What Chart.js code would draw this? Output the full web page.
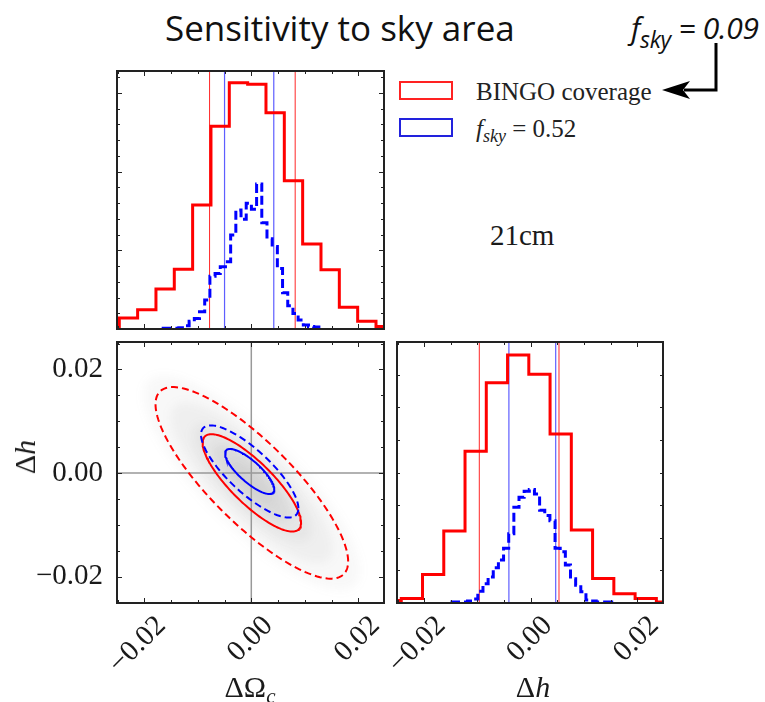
<!DOCTYPE html>
<html>
<head>
<meta charset="utf-8">
<title>Sensitivity to sky area</title>
<script src="https://cdn.jsdelivr.net/npm/chart.js@4.4.1/dist/chart.umd.min.js"></script>
<style>
  html, body { margin: 0; padding: 0; background: #fff; }
  #page { position: relative; width: 765px; height: 702px; overflow: hidden; color: #1a1a1a; font-family: 'Liberation Serif', serif; }
  canvas { position: absolute; }
  .txt { position: absolute; white-space: nowrap; line-height: 1; }
  #title { left: 165px; top: 4px; font: 35px 'Open Sans', sans-serif; color: #111; }
  #note { left: 631px; top: 7px; font: italic 30px 'Open Sans', sans-serif; color: #111; letter-spacing: -0.3px; }
  #note sub { font-size: 23px; vertical-align: -9px; line-height: 1; }
  .key { position: absolute; left: 399px; width: 54px; height: 19px; box-sizing: border-box; border: 2px solid; }
  .keyText { left: 476px; font-size: 25px; color: #222; }
  .keyText sub { font-size: 18px; vertical-align: -5px; line-height: 1; }
  #tag { left: 490px; top: 221px; font-size: 29px; }
  .axTitle { font-size: 30px; width: 200px; text-align: center; }
  .axTitle sub { font-size: 21px; vertical-align: -6px; line-height: 1; }
  #yTitle { left: 25px; top: 457px; transform: translate(-50%, -50%) rotate(-90deg); font-size: 30px; }
</style>
</head>
<body>
<div id="page">
  <div class="txt" id="title">Sensitivity to sky area</div>
  <div class="txt" id="note">f<sub>sky</sub> = 0.09</div>
  <svg width="765" height="120" style="position:absolute;left:0;top:0">
    <polyline points="716,43 716,90 684,90" fill="none" stroke="#000" stroke-width="3"/>
    <polygon points="662,90 690,81 683,90 690,99" fill="#000"/>
  </svg>

  <div class="key" style="top:81px;border-color:#f22"></div>
  <div class="txt keyText" style="top:79px">BINGO coverage</div>
  <div class="key" style="top:118px;border-color:#22d"></div>
  <div class="txt keyText" style="top:116px"><i>f</i><sub><i>sky</i></sub> = 0.52</div>
  <div class="txt" id="tag">21cm</div>

  <canvas id="cOmega" width="279" height="270" style="left:111px;top:65px"></canvas>
  <canvas id="cJoint" width="390" height="357" style="left:0px;top:336px"></canvas>
  <canvas id="cH" width="312" height="357" style="left:357px;top:336px"></canvas>

  <div class="txt" id="yTitle">Δ<i>h</i></div>
  <div class="txt axTitle" style="left:150px;top:672px">ΔΩ<sub><i>c</i></sub></div>
  <div class="txt axTitle" style="left:433px;top:672px">Δ<i>h</i></div>
</div>

<script>
// axis limits shared by the panels
const paramMin = -0.0251, paramMax = 0.0248;
const jointYMin = -0.0251, jointYMax = 0.0253;
const omegaCountMax = 1640, hCountMax = 2010;

// ΔΩc marginal: BINGO coverage (coarse bins) and f_sky = 0.52 (fine bins)
const omegaBingoStart = -0.0281, omegaBingoWidth = 0.003427;
const omegaBingoCounts = [16, 70, 123, 254, 380, 789, 1289, 1565, 1555, 1374, 943, 540, 376, 139, 49, 16];
const omegaFullStart = -0.01647, omegaFullWidth = 0.00097;
const omegaFullCounts = [5, 5, 5, 8, 20, 49, 66, 110, 184, 336, 353, 395, 428, 597, 756, 697,
                         799, 761, 922, 676, 574, 525, 385, 230, 148, 98, 57, 25, 16, 13, 5];
const omegaBingoBounds = [-0.0078, 0.0082];
const omegaFullBounds = [-0.0050, 0.0042];

// Δh marginal
const hBingoStart = -0.02829, hBingoWidth = 0.003988;
const hBingoCounts = [20, 34, 219, 554, 1168, 1697, 1910, 1761, 1302, 562, 188, 72, 34, 8];
const hFullStart = -0.01477, hFullWidth = 0.000966;
const hFullCounts = [8, 8, 8, 16, 30, 91, 149, 201, 272, 332, 421, 533, 737, 815, 860, 874,
                     839, 715, 674, 634, 421, 395, 292, 187, 137, 87, 24, 16, 8, 8, 8];
const hBingoBounds = [-0.00966, 0.00529];
const hFullBounds = [-0.00411, 0.00467];

// joint contours: centre, half extent at the 1σ / 2σ levels, correlation
const bingoCentre = [0.0001, -0.0019];
const bingoHalfX = [0.0092, 0.0180];
const bingoHalfY = [0.0094, 0.0185];
const bingoRho = -0.82;
const fullCentre = [-0.0003, 0.0003];
const fullHalfX = [0.0046, 0.0091];
const fullHalfY = [0.00435, 0.0089];
const fullRho = -0.80;

const RED = '#ff0000', BLUE = '#0000ff';

function stepOutline(start, width, counts) {
  const pts = [{ x: start, y: 0 }];
  counts.forEach((c, i) => {
    pts.push({ x: start + i * width, y: c }, { x: start + (i + 1) * width, y: c });
  });
  pts.push({ x: start + counts.length * width, y: 0 });
  return pts;
}

function ellipse(c, hx, hy, rho) {
  const s = Math.sqrt(1 - rho * rho), pts = [];
  for (let k = 0; k <= 160; k++) {
    const t = 2 * Math.PI * k / 160;
    pts.push({ x: c[0] + hx * Math.cos(t), y: c[1] + hy * (rho * Math.cos(t) + s * Math.sin(t)) });
  }
  return pts;
}

const vline = (x, lo, hi) => [{ x, y: lo }, { x, y: hi }];
const hline = (y, lo, hi) => [{ x: lo, y }, { x: hi, y }];

function line(data, color, width, dash, order) {
  return { data, borderColor: color, borderWidth: width, borderDash: dash || [], showLine: true,
           pointRadius: 0, fill: false, tension: 0, clip: 0, order };
}

const isMajor = (v, step) => Math.abs(v / step - Math.round(v / step)) < 1e-6;
const fmtTick = v => Math.abs(v) < 1e-9 ? '0.00' : (v < 0 ? '\u2212' : '') + Math.abs(v).toFixed(2);

function axis(min, max, step, major, labels, size, isX) {
  return {
    type: 'linear', min, max,
    grid: { display: false }, border: { display: false },
    ticks: {
      stepSize: step, includeBounds: false, autoSkip: false, display: labels,
      color: '#1a1a1a', font: { family: 'Liberation Serif', size: 29 },
      padding: isX ? -2 : 6,
      minRotation: isX ? 45 : 0, maxRotation: isX ? 45 : 0,
      labelOffset: isX ? 17 : 0,
      callback: v => isMajor(v, major) ? fmtTick(v) : ''
    },
    // fixed axis band, and no extra inset for overhanging labels
    afterFit(scale) {
      if (isX) scale.height = size; else scale.width = size;
      scale.paddingLeft = scale.paddingRight = scale.paddingTop = scale.paddingBottom = 0;
    }
  };
}

// frame plus inward ticks on all four sides
const frameTicks = {
  id: 'frameTicks',
  afterDatasetsDraw(chart, args, opts) {
    const { ctx, chartArea: a, scales: { x, y } } = chart;
    ctx.save();
    ctx.strokeStyle = '#222';
    ctx.lineWidth = 1;
    ctx.beginPath();
    x.ticks.forEach(t => {
      const px = Math.round(x.getPixelForValue(t.value)) + 0.5;
      const len = isMajor(t.value, opts.xMajor) ? 5 : 3;
      ctx.moveTo(px, a.bottom); ctx.lineTo(px, a.bottom - len);
      ctx.moveTo(px, a.top); ctx.lineTo(px, a.top + len);
    });
    y.ticks.forEach(t => {
      const py = Math.round(y.getPixelForValue(t.value)) + 0.5;
      const len = isMajor(t.value, opts.yMajor) ? 5 : 3;
      ctx.moveTo(a.left, py); ctx.lineTo(a.left + len, py);
      ctx.moveTo(a.right, py); ctx.lineTo(a.right - len, py);
    });
    ctx.stroke();
    ctx.lineWidth = 2;
    ctx.strokeRect(a.left, a.top, a.right - a.left, a.bottom - a.top);
    ctx.restore();
  }
};

// soft grey sample cloud under the joint contours
const cloudShade = {
  id: 'cloudShade',
  beforeDatasetsDraw(chart) {
    const { ctx, chartArea: a, scales: { x, y } } = chart;
    ctx.save();
    ctx.beginPath(); ctx.rect(a.left, a.top, a.right - a.left, a.bottom - a.top); ctx.clip();
    ctx.filter = 'blur(5px)';
    [[2.2, 0.05], [1.65, 0.06], [1.2, 0.08], [0.8, 0.10], [0.45, 0.08]].forEach(([k, alpha]) => {
      const pts = ellipse(bingoCentre, bingoHalfX[0] * k, bingoHalfY[0] * k, bingoRho);
      ctx.fillStyle = `rgba(110,110,110,${alpha})`;
      ctx.beginPath();
      pts.forEach((p, i) => {
        const px = x.getPixelForValue(p.x), py = y.getPixelForValue(p.y);
        i ? ctx.lineTo(px, py) : ctx.moveTo(px, py);
      });
      ctx.closePath();
      ctx.fill();
    });
    ctx.restore();
  }
};

function baseOptions(padding, scales, ticksCfg) {
  return {
    responsive: false, animation: false, events: [],
    layout: { padding },
    plugins: { legend: { display: false }, tooltip: { enabled: false }, frameTicks: ticksCfg },
    scales
  };
}

new Chart(document.getElementById('cOmega'), {
  type: 'scatter',
  data: { datasets: [
    line(stepOutline(omegaBingoStart, omegaBingoWidth, omegaBingoCounts), RED, 3, null, 1),
    line(stepOutline(omegaFullStart, omegaFullWidth, omegaFullCounts), BLUE, 3, [9, 4], 2),
    ...omegaBingoBounds.map(v => line(vline(v, 0, omegaCountMax), 'rgba(255,0,0,0.85)', 1, null, 3)),
    ...omegaFullBounds.map(v => line(vline(v, 0, omegaCountMax), 'rgba(40,40,255,0.75)', 1.2, null, 3))
  ] },
  options: baseOptions(6, {
    x: axis(paramMin, paramMax, 0.005, 0.02, false, 0, true),
    y: axis(0, omegaCountMax, 100, 500, false, 0, false)
  }, { xMajor: 0.02, yMajor: 500 }),
  plugins: [frameTicks]
});

new Chart(document.getElementById('cJoint'), {
  type: 'scatter',
  data: { datasets: [
    line(ellipse(fullCentre, fullHalfX[0], fullHalfY[0], fullRho), BLUE, 2, null, 1),
    line(ellipse(fullCentre, fullHalfX[1], fullHalfY[1], fullRho), BLUE, 2, [7, 4], 2),
    line(ellipse(bingoCentre, bingoHalfX[0], bingoHalfY[0], bingoRho), RED, 2, null, 3),
    line(ellipse(bingoCentre, bingoHalfX[1], bingoHalfY[1], bingoRho), RED, 2, [7, 4], 4),
    line(vline(0, jointYMin, jointYMax), '#999', 1.5, null, 5),
    line(hline(0, paramMin, paramMax), '#999', 1.5, null, 5)
  ] },
  options: baseOptions({ left: 0, right: 6, top: 6, bottom: 0 }, {
    x: axis(paramMin, paramMax, 0.005, 0.02, true, 90, true),
    y: axis(jointYMin, jointYMax, 0.005, 0.02, true, 117, false)
  }, { xMajor: 0.02, yMajor: 0.02 }),
  plugins: [cloudShade, frameTicks]
});

new Chart(document.getElementById('cH'), {
  type: 'scatter',
  data: { datasets: [
    line(stepOutline(hBingoStart, hBingoWidth, hBingoCounts), RED, 3, null, 1),
    line(stepOutline(hFullStart, hFullWidth, hFullCounts), BLUE, 3, [9, 4], 2),
    ...hBingoBounds.map(v => line(vline(v, 0, hCountMax), 'rgba(255,0,0,0.85)', 1, null, 3)),
    ...hFullBounds.map(v => line(vline(v, 0, hCountMax), 'rgba(40,40,255,0.75)', 1.2, null, 3))
  ] },
  options: baseOptions({ left: 40, right: 6, top: 6, bottom: 0 }, {
    x: axis(paramMin, paramMax, 0.005, 0.02, true, 90, true),
    y: axis(0, hCountMax, 250, 1000, false, 0, false)
  }, { xMajor: 0.02, yMajor: 1000 }),
  plugins: [frameTicks]
});
</script>
</body>
</html>
